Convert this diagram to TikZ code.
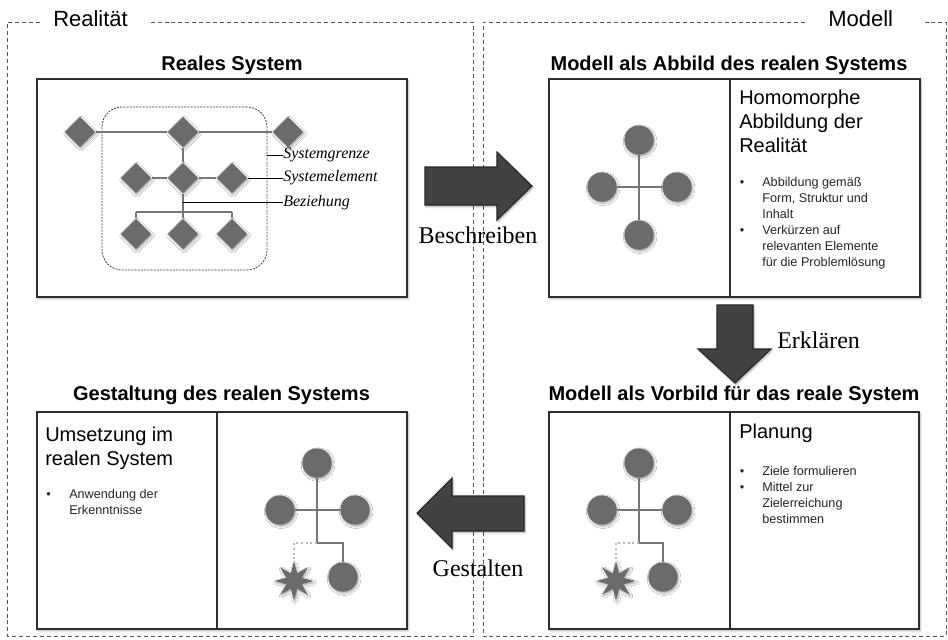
\documentclass[tikz,border=0pt]{standalone}
\usepackage{fontspec}
\setmainfont{Liberation Serif}
\setsansfont{Liberation Sans}
\usetikzlibrary{shapes.geometric,fit,shadows.blur}

\definecolor{framegray}{HTML}{555555}
\definecolor{panelline}{HTML}{2E2E2E}
\definecolor{elemgray}{HTML}{6B6B6B}
\definecolor{linkgray}{HTML}{767676}
\definecolor{arrowfill}{HTML}{424242}

\tikzset{
  softshadow/.style={blur shadow={shadow xshift=0.8pt, shadow yshift=-1.2pt,
      shadow blur radius=1.6pt, shadow opacity=35}},
  outerframe/.style={draw=framegray, line width=0.7pt, dash pattern=on 3pt off 2.2pt},
  panel/.style={draw=panelline, line width=1.35pt, fill=white, inner sep=0pt, softshadow},
  divider/.style={draw=panelline, line width=1.35pt},
  boundary/.style={draw=black!75, line width=0.6pt, dash pattern=on 1.5pt off 0.9pt,
      rounded corners=15pt, inner sep=0pt},
  elem/.style={diamond, fill=elemgray, minimum size=23pt, inner sep=0pt, softshadow},
  knot/.style={circle, fill=elemgray, minimum size=22pt, inner sep=0pt, softshadow},
  burst/.style={star, star points=8, star point ratio=2.3, fill=elemgray,
      minimum size=29pt, inner sep=0pt, softshadow},
  link/.style={draw=linkgray, line width=1.5pt},
  newlink/.style={draw=gray!55, line width=1.5pt, dotted},
  leader/.style={draw=black, line width=0.7pt},
  paneltitle/.style={font=\sffamily\bfseries\fontsize{15}{18}\selectfont, anchor=base, inner sep=0pt},
  frametitle/.style={font=\sffamily\fontsize{16.5}{20}\selectfont, anchor=base west, inner sep=0pt},
  heading/.style={font=\sffamily\fontsize{15}{18}\selectfont, anchor=north west, inner sep=0pt},
  bullets/.style={font=\sffamily\fontsize{9.5}{12}\selectfont, anchor=north west, inner sep=0pt, text=black!85},
  steplabel/.style={font=\fontsize{18}{22}\selectfont, anchor=base, inner sep=0pt},
  annot/.style={font=\itshape\fontsize{12}{14}\selectfont, anchor=west, inner sep=0pt},
  bigarrow/.style={fill=arrowfill, draw=black!85, line width=0.8pt, line join=miter, softshadow},
}

\begin{document}
\begin{tikzpicture}[x=0.75pt, y=-0.75pt]
\useasboundingbox (0,0) rectangle (948,639);

% ---------- the two dashed areas ----------
\node[frametitle] (realitaet) at (53,26.7) {Realität};
\node[frametitle] (modell) at (828,26.7) {Modell};
\draw[outerframe] (40,22) -| (7.5,636.5) -| (473,22) -- (148,22);
\draw[outerframe] (805,22) -| (483,636.5) -| (946,22) -- (922,22);

% ---------- panels ----------
\node[panel, fit={(37,79) (407,297)}] (real) {};
\node[panel, fit={(549,79) (920,297)}] (abbild) {};
\node[panel, fit={(549,412) (919,629)}] (vorbild) {};
\node[panel, fit={(37,412) (407,629)}] (gestaltung) {};
\draw[divider] (730,79) -- (730,297);
\draw[divider] (730,412) -- (730,629);
\draw[divider] (217,412) -- (217,629);

\node[paneltitle] (t-real) at (232,70) {Reales System};
\node[paneltitle] (t-abbild) at (729,70) {Modell als Abbild des realen Systems};
\node[paneltitle] (t-vorbild) at (734,400) {Modell als Vorbild für das reale System};
\node[paneltitle] (t-gest) at (221.5,400) {Gestaltung des realen Systems};

% ---------- real system with its boundary ----------
\node[boundary, fit={(102,107) (267,270)}] (grenze) {};

\node[elem] (a1) at (80,132) {};
\node[elem] (a2) at (183,132) {};
\node[elem] (a3) at (288,132) {};
\node[elem] (b1) at (136,178) {};
\node[elem] (b2) at (183,178) {};
\node[elem] (b3) at (232,178) {};
\node[elem] (c1) at (136,234) {};
\node[elem] (c2) at (183,234) {};
\node[elem] (c3) at (232,234) {};
\coordinate (j1) at (136,212);
\coordinate (j3) at (232,212);

\draw[link] (a1) -- (a2);
\draw[link] (a2) -- (a3);
\draw[link] (a2) -- (b2);
\draw[link] (b1) -- (b2);
\draw[link] (b2) -- (b3);
\draw[link] (b2) -- (c2);
\draw[link] (j1) -- (j3);
\draw[link] (j1) -- (c1);
\draw[link] (j3) -- (c3);

\node[annot] (l-grenze) at (283,155) {Systemgrenze};
\node[annot] (l-element) at (283,178) {Systemelement};
\node[annot] (l-bez) at (283,202.5) {Beziehung};
\coordinate (g-edge) at (267,155);
\coordinate (bz) at (183,202.5);
\draw[leader] (g-edge) -- (l-grenze.west);
\draw[leader] (b3.east) -- (l-element.west);
\draw[leader] (bz) -- (l-bez.west);

% ---------- model as image ----------
\node[knot] (m1) at (639,140) {};
\node[knot] (m2) at (602,187) {};
\node[knot] (m3) at (677,187) {};
\node[knot] (m4) at (639,235) {};
\draw[link] (m1) -- (m4);
\draw[link] (m2) -- (m3);

\node[heading] (h-abbild) at (739,87.2) {\begin{tabular}{@{}l@{}}Homomorphe\\Abbildung der\\Realität\end{tabular}};
\node[bullets] (b-abbild) at (739.5,174.8) {\begin{tabular}{@{}l@{}l@{}}
\makebox[16.9pt][l]{\textbullet} & Abbildung gemäß\\
 & Form, Struktur und\\
 & Inhalt\\
\textbullet & Verkürzen auf\\
 & relevanten Elemente\\
 & für die Problemlösung
\end{tabular}};

% ---------- model as blueprint ----------
\node[knot] (p1) at (639,463) {};
\node[knot] (p2) at (602,510) {};
\node[knot] (p3) at (677,510) {};
\node[knot] (p4) at (663,577) {};
\node[burst] (s1) at (616,581) {};
\coordinate (q1) at (639,543);
\draw[link] (p1) -- (q1);
\draw[link] (p2) -- (p3);
\draw[link] (q1) -| (p4);
\draw[newlink] (q1) -| (s1);

\node[heading] (h-vorbild) at (739,424.2) {Planung};
\node[bullets] (b-vorbild) at (739.5,463.8) {\begin{tabular}{@{}l@{}l@{}}
\makebox[16.9pt][l]{\textbullet} & Ziele formulieren\\
\textbullet & Mittel zur\\
 & Zielerreichung\\
 & bestimmen
\end{tabular}};

% ---------- realised system ----------
\node[knot] (r1) at (317,463) {};
\node[knot] (r2) at (280,510) {};
\node[knot] (r3) at (355,510) {};
\node[knot] (r4) at (343,577) {};
\node[burst] (s2) at (294,581) {};
\coordinate (q2) at (317,543);
\draw[link] (r1) -- (q2);
\draw[link] (r2) -- (r3);
\draw[link] (q2) -| (r4);
\draw[newlink] (q2) -| (s2);

\node[heading] (h-gest) at (45,424.2) {\begin{tabular}{@{}l@{}}Umsetzung im\\realen System\end{tabular}};
\node[bullets] (b-gest) at (46,486.8) {\begin{tabular}{@{}l@{}l@{}}
\makebox[17.25pt][l]{\textbullet} & Anwendung der\\
 & Erkenntnisse
\end{tabular}};

% ---------- transition arrows ----------
\draw[bigarrow] (425,167) -- (497,167) -- (497,152) -- (532,186) -- (497,220) -- (497,205) -- (425,205) -- cycle;
\draw[bigarrow] (717,305) -- (753,305) -- (753,349) -- (771,349) -- (735,383) -- (698,349) -- (717,349) -- cycle;
\draw[bigarrow] (524,496) -- (452,496) -- (452,478) -- (417,513) -- (452,548) -- (452,531) -- (524,531) -- cycle;

\node[steplabel] (beschreiben) at (478,243) {Beschreiben};
\node[steplabel, anchor=base west] (erklaeren) at (777,348) {Erklären};
\node[steplabel] (gestalten) at (478,576) {Gestalten};
\end{tikzpicture}
\end{document}
